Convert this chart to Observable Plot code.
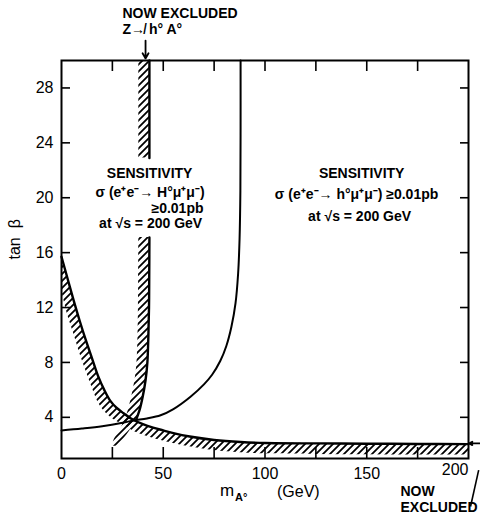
<!DOCTYPE html>
<html>
<head>
<meta charset="utf-8">
<script src="https://cdn.jsdelivr.net/npm/d3@7"></script>
<script src="https://cdn.jsdelivr.net/npm/@observablehq/plot@0.6"></script>
<style>
  body { margin: 0; background: #fff; }
  svg { display: block; }
</style>
</head>
<body>
<div id="chart"></div>
<script>
// Sensitivity curve for e+e- -> H° mu+ mu- (m_A in GeV, tan beta)
const hMass = [0, 10, 20, 30, 35.4, 42, 48.7, 55, 63.4, 70, 74, 78, 81, 83.5, 85.5, 86.8, 87.5, 87.9, 88, 88];
const hTanB = [3.04, 3.18, 3.35, 3.6, 3.77, 3.92, 4.15, 4.6, 5.5, 6.4, 7.1, 8.1, 9.2, 10.6, 12.3, 14.5, 17, 20.5, 25, 30];

// Excluded region boundary (upper edge) and lower edge of its hatching
const exMass = [0, 3, 6, 9, 12, 15, 18, 21, 24, 27, 30.5, 35.4, 40, 45, 50, 55, 63, 75, 88, 100, 125, 150, 175, 200];
const exTanB = [15.7, 14.1, 12.5, 11.0, 9.6, 8.3, 7.0, 6.0, 5.2, 4.7, 4.3, 3.8, 3.5, 3.25, 3.05, 2.85, 2.6, 2.35, 2.2, 2.13, 2.1, 2.08, 2.06, 2.05];
const exLow  = [13.3, 11.5, 10.1, 8.65, 7.4, 6.2, 5.1, 4.44, 4.03, 3.72, 3.44, 2.99, 2.72, 2.48, 2.28, 2.1, 1.85, 1.58, 1.42, 1.34, 1.3, 1.28, 1.26, 1.25];

// Z -> h°A° exclusion edge: piece above the left label block
const zTopTanB  = [30, 22.9];
const zTopMass  = [43.2, 43.2];
const zTopHatch = [38.0, 38.0];
// ... and piece below it
const zLowTanB  = [17.1, 14, 12, 10, 8, 6.7, 5.5, 4.5, 3.8, 3.0, 2.4, 1.9];
const zLowMass  = [43.2, 43.1, 43.0, 42.7, 42.2, 41.3, 39.9, 38.3, 36.6, 33.5, 30.5, 27.5];
const zLowHatch = [38.0, 37.9, 37.8, 37.6, 37.1, 36.1, 34.5, 32.8, 31.2, 28.5, 26.0, 25.0];

// Axis ticks
const xTickLabels = [0, 50, 100, 150];
const xLastLabel = [200];
const xTickMarks = [25, 50, 75, 100, 125, 150, 175];
const yTicks = [4, 8, 12, 16, 20, 24, 28];

// In-plot labels
const noteText = [
  "SENSITIVITY",
  "σ (e⁺e⁻→ H°μ⁺μ⁻)",
  "≥0.01pb",
  "at √s = 200 GeV",
  "SENSITIVITY",
  "σ (e⁺e⁻→ h°μ⁺μ⁻) ≥0.01pb",
  "at √s = 200 GeV"
];
const noteX = [43.3, 43.5, 57, 43.8, 147.5, 145, 146.5];
const noteY = [21.8, 20.4, 19.2, 18.1, 21.8, 20.2, 18.6];

// Pointers to the excluded regions
const arrowX1 = [41.3, 205.5];
const arrowY1 = [31.45, 2.1];
const arrowX2 = [41.3, 200.4];
const arrowY2 = [30.15, 2.1];
const leaderX = [205, 201];
const leaderY = [0.15, -2.5];

const hCurve = hMass.map((m, i) => ({m, tanB: hTanB[i]}));
const exCurve = exMass.map((m, i) => ({m, tanB: exTanB[i], low: exLow[i]}));
const zTop = zTopTanB.map((t, i) => ({tanB: t, m: zTopMass[i], left: zTopHatch[i]}));
const zLow = zLowTanB.map((t, i) => ({tanB: t, m: zLowMass[i], left: zLowHatch[i]}));
const notes = noteText.map((text, i) => ({text, x: noteX[i], y: noteY[i]}));
const arrows = arrowX1.map((x1, i) => ({x1, y1: arrowY1[i], x2: arrowX2[i], y2: arrowY2[i]}));
const leader = [{x1: leaderX[0], y1: leaderY[0], x2: leaderX[1], y2: leaderY[1]}];

const font = "Liberation Sans, Arial, Helvetica, sans-serif";

const chart = Plot.plot({
  width: 480,
  height: 516,
  marginLeft: 61,
  marginRight: 12,
  marginTop: 60,
  marginBottom: 58,
  style: {fontFamily: font, background: "white", color: "black", overflow: "visible"},
  x: {domain: [0, 200], label: null},
  y: {domain: [1, 30], label: null},
  marks: [
    // hatched bands
    Plot.areaY(exCurve, {x: "m", y1: "low", y2: "tanB", fill: "url(#hatch)", curve: "catmull-rom"}),
    Plot.areaX(zTop, {y: "tanB", x1: "left", x2: "m", fill: "url(#hatch)"}),
    Plot.areaX(zLow, {y: "tanB", x1: "left", x2: "m", fill: "url(#hatch)", curve: "catmull-rom"}),

    // boundary curves
    Plot.line(exCurve, {x: "m", y: "tanB", stroke: "black", strokeWidth: 2.4, curve: "catmull-rom"}),
    Plot.line(zTop, {x: "m", y: "tanB", stroke: "black", strokeWidth: 2.4}),
    Plot.line(zLow, {x: "m", y: "tanB", filter: d => d.tanB >= 3.5, stroke: "black", strokeWidth: 2.4, curve: "catmull-rom"}),
    Plot.line(hCurve, {x: "m", y: "tanB", stroke: "black", strokeWidth: 2, curve: "catmull-rom"}),

    // inward ticks on all four sides
    Plot.tickX(xTickMarks, {x: d => d, insetTop: 387, strokeWidth: 1.6}),
    Plot.tickX(xTickMarks, {x: d => d, insetBottom: 387, strokeWidth: 1.6}),
    Plot.tickY(yTicks, {y: d => d, insetRight: 398, strokeWidth: 1.6}),
    Plot.tickY(yTicks, {y: d => d, insetLeft: 399, strokeWidth: 1.6}),

    Plot.frame({stroke: "black", strokeWidth: 2}),

    // tick labels
    Plot.axisX(xTickLabels, {anchor: "bottom", tickSize: 0, tickPadding: 9, fontSize: 16, label: null}),
    Plot.text(xLastLabel, {x: d => d, frameAnchor: "bottom", textAnchor: "end", dy: 16, fontSize: 16}),
    Plot.axisY(yTicks, {anchor: "left", tickSize: 0, tickPadding: 8, fontSize: 16, label: null}),

    // axis titles
    Plot.text(["tan  β"], {frameAnchor: "left", dx: -47, rotate: -90, fontSize: 16}),
    Plot.text(["m"], {frameAnchor: "bottom", dx: -45, dy: 37, textAnchor: "start", fontSize: 17}),
    Plot.text(["A°"], {frameAnchor: "bottom", dx: -30, dy: 42, textAnchor: "start", fontSize: 11, fontWeight: "bold"}),
    Plot.text(["(GeV)"], {frameAnchor: "bottom", dx: 12, dy: 38, textAnchor: "start", fontSize: 16}),

    // annotations
    Plot.text(notes, {x: "x", y: "y", text: "text", fontSize: 14, fontWeight: "bold"}),
    Plot.text(["NOW EXCLUDED\nZ↛ h° A°"], {frameAnchor: "top-left", dx: 61, dy: -54, lineAnchor: "top", textAnchor: "start", lineHeight: 1.15, fontSize: 14, fontWeight: "bold"}),
    Plot.text(["NOW\nEXCLUDED"], {frameAnchor: "bottom-right", dx: -68, dy: 26, lineAnchor: "top", textAnchor: "start", lineHeight: 1.15, fontSize: 14, fontWeight: "bold"}),
    Plot.arrow(arrows, {x1: "x1", y1: "y1", x2: "x2", y2: "y2", stroke: "black", strokeWidth: 1.8, headLength: 7}),
    Plot.link(leader, {x1: "x1", y1: "y1", x2: "x2", y2: "y2", stroke: "black", strokeWidth: 1.6})
  ]
});

// diagonal hatching used by the excluded bands
const defs = d3.select(chart).insert("defs", ":first-child");
const pattern = defs.append("pattern")
  .attr("id", "hatch")
  .attr("patternUnits", "userSpaceOnUse")
  .attr("width", 7)
  .attr("height", 7);
pattern.append("path")
  .attr("d", "M0,7 L7,0 M-1,1 L1,-1 M6,8 L8,6")
  .attr("stroke", "black")
  .attr("stroke-width", 1.8)
  .attr("fill", "none");

document.getElementById("chart").appendChild(chart);
</script>
</body>
</html>
